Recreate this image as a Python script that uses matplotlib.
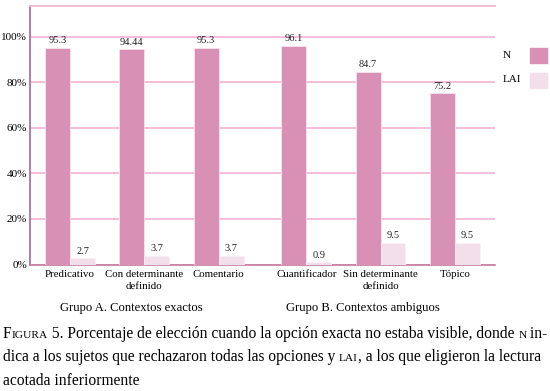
import numpy as np
import matplotlib
matplotlib.use('Agg')
import matplotlib.pyplot as plt
from matplotlib.patches import Rectangle

plt.rcParams['font.family'] = ['Liberation Serif', 'DejaVu Serif']

# data
categories = ['Predicativo', 'Con determinante\ndefinido', 'Comentario',
              'Cuantificador', 'Sin determinante\ndefinido', 'Tópico']
n_values = [95.3, 94.44, 95.3, 96.1, 84.7, 75.2]
lai_values = [2.7, 3.7, 3.7, 0.9, 9.5, 9.5]
n_labels = ['95.3', '94.44', '95.3', '96.1', '84.7', '75.2']
lai_labels = ['2.7', '3.7', '3.7', '0.9', '9.5', '9.5']
groups = ['Grupo A. Contextos exactos', 'Grupo B. Contextos ambiguos']
yticks = [0, 20, 40, 60, 80, 100]

col_n = '#d891b5'
col_lai = '#f3dfea'
col_grid = '#f4b9d7'

fig = plt.figure(figsize=(5.5, 3.91), dpi=100)
ax = fig.add_axes([0.0545, 0.3235, 0.8455, 0.6615])

x = np.array([0, 1, 2, 3.18, 4.18, 5.18])
width = 0.335

ax.bar(x - width / 2, n_values, width, color=col_n, edgecolor='#f6e3ee',
       linewidth=0.6, zorder=3)
ax.bar(x + width / 2, lai_values, width, color=col_lai, edgecolor='#fbf0f6',
       linewidth=0.6, zorder=3)

for xi, v, s in zip(x, n_values, n_labels):
    ax.annotate(s, xy=(xi - width / 2, v), xytext=(0, 2), textcoords='offset points',
                ha='center', va='bottom', fontsize=7.5, color='#222222')
for xi, v, s in zip(x, lai_values, lai_labels):
    ax.annotate(s, xy=(xi + width / 2, v), xytext=(0, 2), textcoords='offset points',
                ha='center', va='bottom', fontsize=7.5, color='#222222')

ax.set_xlim(-0.54, 5.72)
ax.set_ylim(0, 113.6)
ax.set_yticks(yticks)
ax.set_yticklabels([f'{t}%' for t in yticks], fontsize=8)
ax.set_xticks(x)
ax.set_xticklabels(categories, fontsize=7.8, linespacing=1.35)
ax.tick_params(length=0, pad=4)
ax.tick_params(axis='y', pad=2)

ax.grid(axis='y', color=col_grid, linewidth=1.3, zorder=0)
ax.set_axisbelow(True)
ax.spines['right'].set_visible(False)
ax.spines['top'].set_color(col_grid)
ax.spines['top'].set_linewidth(1.3)
ax.spines['left'].set_color('#a8688b')
ax.spines['left'].set_linewidth(1.2)
ax.spines['bottom'].set_color('#c27ba0')
ax.spines['bottom'].set_linewidth(1.2)

# legend
fig.text(503 / 550, 1 - 55 / 391, 'N', fontsize=8, va='center', ha='left')
fig.text(503 / 550, 1 - 80 / 391, 'LAI', fontsize=8, va='center', ha='left')
fig.patches.append(Rectangle((530 / 550, 1 - 63 / 391), 17 / 550, 15 / 391,
                             transform=fig.transFigure, color=col_n))
fig.patches.append(Rectangle((530 / 550, 1 - 88 / 391), 17 / 550, 15 / 391,
                             transform=fig.transFigure, color=col_lai))

# group labels
fig.text(131 / 550, 1 - 308 / 391, groups[0], fontsize=9.1, ha='center', va='center')
fig.text(363 / 550, 1 - 308 / 391, groups[1], fontsize=9.1, ha='center', va='center')


# caption with small caps pieces
def draw_runs(runs, x0, y0):
    renderer = fig.canvas.get_renderer()
    xpos = x0
    for txt, size in runs:
        t = fig.text(xpos, y0, txt, fontsize=size, ha='left', va='baseline')
        bb = t.get_window_extent(renderer=renderer)
        xpos += bb.width / fig.bbox.width


big = 11.2
small = 8.2
line1 = [('F', big), ('IGURA', small), (' 5. Porcentaje de elección cuando la opción exacta no estaba visible, donde ', big),
         ('N', small), (' in-', big)]
line2 = [('dica a los sujetos que rechazaron todas las opciones y ', big), ('LAI', small),
         (', a los que eligieron la lectura', big)]
line3 = [('acotada inferiormente', big)]
draw_runs(line1, 3 / 550, 1 - 338 / 391)
draw_runs(line2, 3 / 550, 1 - 361 / 391)
draw_runs(line3, 3 / 550, 1 - 385 / 391)

fig.savefig('out.png', dpi=100)
